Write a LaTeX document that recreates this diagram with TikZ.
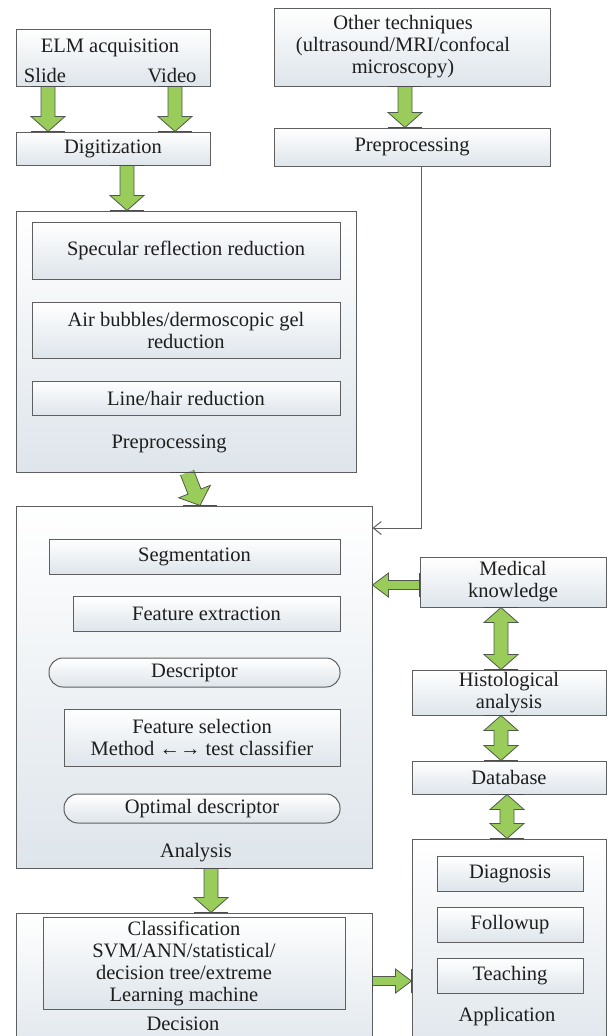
\documentclass[tikz,border=0pt]{standalone}
\usepackage{fontspec}
\setmainfont{Liberation Serif}
\usetikzlibrary{arrows.meta,calc}

\definecolor{boxline}{RGB}{95,95,95}
\definecolor{boxfill}{RGB}{222,229,235}
\definecolor{arrowgreen}{RGB}{153,204,90}
\definecolor{arrowline}{RGB}{80,90,75}
\definecolor{textgray}{RGB}{30,30,30}

\tikzset{
  box/.style={draw=boxline, line width=1pt, top color=white, bottom color=boxfill,
    inner sep=0pt, align=center, text=textgray},
  roundbox/.style={box, rounded corners=14pt},
  tag/.style={anchor=base, text=textgray},
  fatbody/.style={fill=arrowgreen, draw=arrowline, line width=0.8pt, line join=miter},
  fattick/.style={draw=black!70, line width=1.6pt},
  thinline/.style={draw=boxline, line width=1pt, -{Straight Barb[length=8pt,width=13pt]}}
}

\newcommand{\fatsize}[3]{\def\fatshaft{#1}\def\fathead{#2}\def\fatlen{#3}}
\fatsize{7pt}{17pt}{15pt}

\newcommand{\fatarrow}[3][0]{%
  \coordinate (fas) at (#2);
  \coordinate (fae) at (#3);
  \coordinate (fac) at ($(fae)!\fatlen!(fas)$);
  \draw[fatbody] ($(fas)!\fatshaft!90:(fae)$) -- ($(fac)!\fatshaft!90:(fae)$)
    -- ($(fac)!\fathead!90:(fae)$) -- (fae) -- ($(fac)!\fathead!-90:(fae)$)
    -- ($(fac)!\fatshaft!-90:(fae)$) -- ($(fas)!\fatshaft!-90:(fae)$);
  \draw[fattick] ($(fas)+(#1:\fathead)$) -- ($(fas)+(#1+180:\fathead)$);
  \draw[fattick] ($(fae)+(#1:\fathead)$) -- ($(fae)+(#1+180:\fathead)$);
}

\newcommand{\fatdarrow}[3][0]{%
  \coordinate (fas) at (#2);
  \coordinate (fae) at (#3);
  \coordinate (fac) at ($(fas)!\fatlen!(fae)$);
  \coordinate (fad) at ($(fae)!\fatlen!(fas)$);
  \draw[fatbody] (fas) -- ($(fac)!\fathead!90:(fae)$) -- ($(fac)!\fatshaft!90:(fae)$)
    -- ($(fad)!\fatshaft!90:(fae)$) -- ($(fad)!\fathead!90:(fae)$) -- (fae)
    -- ($(fad)!\fathead!-90:(fae)$) -- ($(fad)!\fatshaft!-90:(fae)$)
    -- ($(fac)!\fatshaft!-90:(fae)$) -- ($(fac)!\fathead!-90:(fae)$) -- cycle;
  \draw[fattick] ($(fas)+(#1:\fathead)$) -- ($(fas)+(#1+180:\fathead)$);
  \draw[fattick] ($(fae)+(#1:\fathead)$) -- ($(fae)+(#1+180:\fathead)$);
}

\begin{document}
\begin{tikzpicture}[x=1pt, y=-1pt, font=\fontsize{20.5}{22}\selectfont]
\useasboundingbox (0,0) rectangle (609,1036);
\clip (0,0) rectangle (609,1036);

\node[box, minimum width=194pt, minimum height=57pt] (elm) at (113,57.5) {};
\node[tag] (elmt) at (110,52) {ELM acquisition};
\node[tag] (slide) at (45,82) {Slide};
\node[tag] (video) at (172,82) {Video};
\node[box, minimum width=194pt, minimum height=33pt] (digit) at (113,148.5) {Digitization};

\node[box, minimum width=276pt, minimum height=78pt] (other) at (412,47) {};
\node[align=center, text=textgray] (othert) at (403,47)
  {Other techniques\\(ultrasound/MRI/confocal\\microscopy)};
\node[box, minimum width=276pt, minimum height=38pt] (pre) at (412,147) {Preprocessing};

\node[box, minimum width=340pt, minimum height=261pt] (prep) at (186,341.5) {};
\node[box, minimum width=308pt, minimum height=57pt] (spec) at (186,250.5) {Specular reflection reduction};
\node[box, minimum width=308pt, minimum height=56pt] (air) at (186,330) {Air bubbles/dermoscopic gel\\reduction};
\node[box, minimum width=308pt, minimum height=34pt] (hair) at (186,398) {Line/hair reduction};
\node[tag] (preptag) at (169,448) {Preprocessing};

\node[box, minimum width=356pt, minimum height=362pt] (ana) at (194,687) {};
\node[box, minimum width=291pt, minimum height=35pt] (seg) at (194.5,556.5) {Segmentation};
\node[box, minimum width=267pt, minimum height=35pt] (feat) at (206.5,613.5) {Feature extraction};
\node[roundbox, minimum width=291pt, minimum height=29pt] (desc) at (194.5,672.5) {Descriptor};
\node[box, minimum width=276pt, minimum height=57pt] (fsel) at (202,737.5) {Feature selection\\Method ←→ test classifier};
\node[roundbox, minimum width=276pt, minimum height=29pt] (optd) at (202,808.5) {Optimal descriptor};
\node[tag] (anatag) at (196,857) {Analysis};

\node[box, minimum width=356pt, minimum height=150pt] (dec) at (194,988) {};
\node[box, minimum width=302pt, minimum height=92pt] (cls) at (194,963) {};
\node[align=center, text=textgray] (clst) at (184,963)
  {Classification\\SVM/ANN/statistical/\\decision tree/extreme\\Learning machine};
\node[tag] (dectag) at (183,1030) {Decision};

\node[box, minimum width=186pt, minimum height=50pt] (med) at (513,582) {Medical\\knowledge};
\node[box, minimum width=194pt, minimum height=45pt] (hist) at (509,692.5) {Histological\\analysis};
\node[box, minimum width=194pt, minimum height=33pt] (db) at (509,777.5) {Database};
\node[box, minimum width=194pt, minimum height=224pt] (app) at (509,951) {};
\node[box, minimum width=146pt, minimum height=35pt] (diag) at (510,873.5) {Diagnosis};
\node[box, minimum width=146pt, minimum height=35pt] (follow) at (510,924.5) {Followup};
\node[box, minimum width=146pt, minimum height=35pt] (teach) at (510,975.5) {Teaching};
\node[tag] (apptag) at (507,1021) {Application};

\coordinate (fb) at (421,528);
\draw[thinline] (fb |- pre.south) -- (fb) -- (fb -| ana.east);

\fatarrow{48,0 |- elm.south}{48,0 |- digit.north}
\fatarrow{175,0 |- elm.south}{175,0 |- digit.north}
\fatarrow{127,0 |- digit.south}{127,0 |- prep.north}
\fatarrow{405,0 |- other.south}{405,0 |- pre.north}
\fatarrow{187,0 |- prep.south}{200,0 |- ana.north}
\fatarrow{211,0 |- ana.south}{211,0 |- dec.north}
\fatdarrow{501,0 |- med.south}{501,0 |- hist.north}
\fatdarrow{501,0 |- hist.south}{501,0 |- db.north}
\fatdarrow{507,0 |- db.south}{507,0 |- app.north}
\fatsize{4.5pt}{12pt}{16pt}
\fatarrow[90]{med.west |- 0,585}{ana.east |- 0,585}
\fatarrow[90]{dec.east |- 0,981}{app.west |- 0,981}
\end{tikzpicture}
\end{document}
